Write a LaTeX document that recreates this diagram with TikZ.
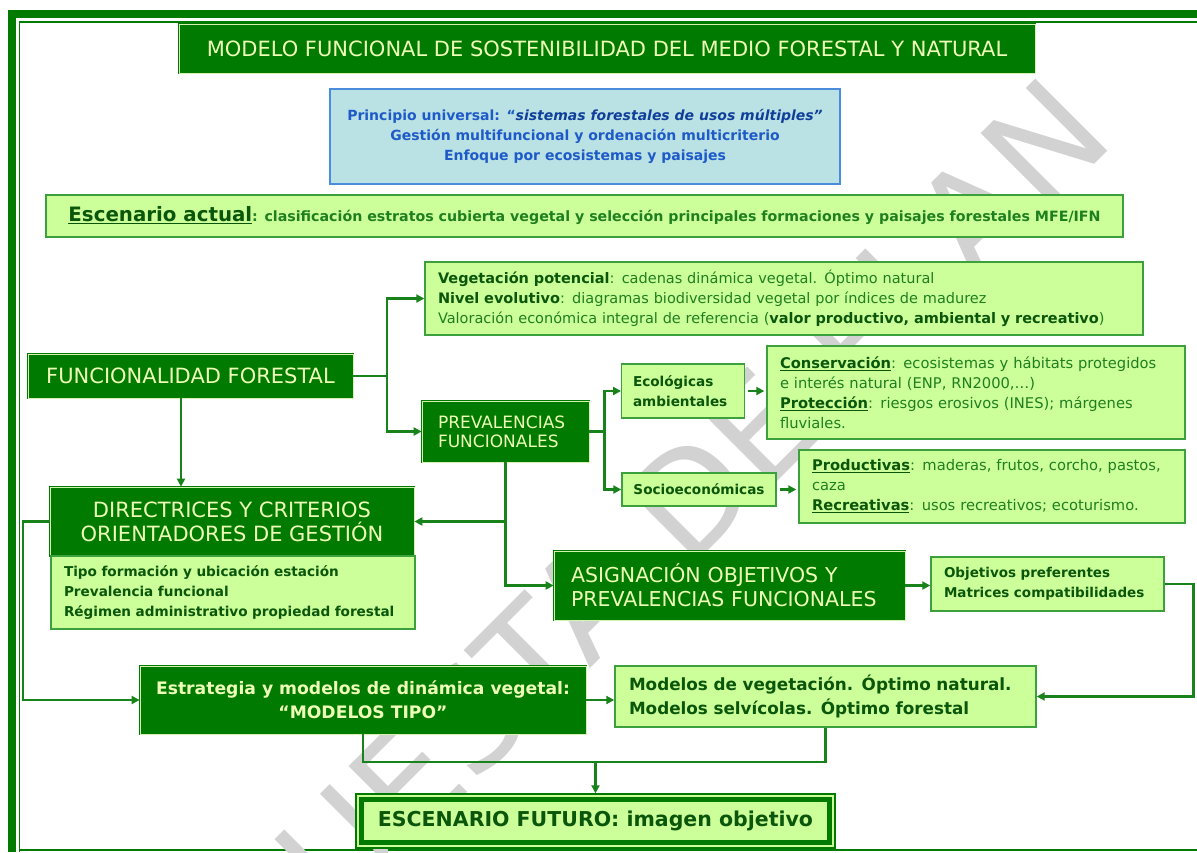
\documentclass[tikz,border=0pt]{standalone}
\usepackage{fontspec}
\setmainfont{DejaVu Sans}
\usetikzlibrary{positioning,arrows.meta}

\definecolor{dkgreen}{HTML}{007A00}
\definecolor{rimgreen}{HTML}{D6F2B0}
\definecolor{palegreen}{HTML}{CCFF99}
\definecolor{boxline}{HTML}{3CA03C}
\definecolor{txtgreen}{HTML}{1F7F1F}
\definecolor{lbltxt}{HTML}{0A560A}
\definecolor{lighttxt}{HTML}{EEFFB8}
\definecolor{skyfill}{HTML}{BAE1E4}
\definecolor{skyline}{HTML}{4A8EDB}
\definecolor{skytxt}{HTML}{1E5AC8}
\definecolor{skydark}{HTML}{103F9A}
\definecolor{wirecol}{HTML}{17831A}
\definecolor{stampgray}{HTML}{D2D2D2}

\begin{document}
\begin{tikzpicture}[
   x=1pt, y=-1pt,
   darkbox/.style={draw=dkgreen, double=rimgreen, double distance=0.8pt, line width=0.7pt, fill=dkgreen, text=lighttxt, inner sep=0pt},
   palebox/.style={draw=boxline, line width=1.4pt, fill=palegreen, text=txtgreen, inner sep=0pt},
   bluebox/.style={draw=skyline, line width=1.4pt, fill=skyfill, text=skytxt, inner sep=0pt},
   wire/.style={draw=wirecol, line width=2.2pt},
   arrow/.style={wire, -{Triangle[length=8pt,width=8pt]}}
]
\useasboundingbox (0,0) rectangle (1197,852);

% Frame
\fill[dkgreen] (8,10) rectangle (16,852);
\fill[dkgreen] (8,10) rectangle (1197,18);
\draw[dkgreen, line width=1.5pt] (19.5,852) -- (19.5,22) -- (1197,22);
\draw[dkgreen, line width=1.5pt] (19.5,850) -- (1197,850);

% Watermark
\begin{scope}
\clip (0,0) rectangle (1197,852);
\node[rotate=45, text=stampgray, font=\fontsize{140}{140}\selectfont] (stamp) at (559,628) {PROPUESTA DE PLAN};
\end{scope}

% Nodes
\node[darkbox, minimum width=856pt, minimum height=49pt, font=\fontsize{21}{24}\selectfont] (title) at (607,48.5) {MODELO FUNCIONAL DE SOSTENIBILIDAD DEL MEDIO FORESTAL Y NATURAL};
\node[bluebox, minimum width=510pt, minimum height=95pt, align=center, font=\fontsize{14}{20}\bfseries\selectfont] (principle) at (585,136.5) {Principio universal: “{\itshape\color{skydark}sistemas forestales de usos múltiples”}\\Gestión multifuncional y ordenación multicriterio\\Enfoque por ecosistemas y paisajes};
\node[palebox, minimum width=1077pt, minimum height=42pt, font=\fontsize{14.2}{20}\bfseries\selectfont] (actual) at (584.5,216) {{\fontsize{19.8}{20}\selectfont\color{lbltxt}\underline{Escenario actual}}: clasificación estratos cubierta vegetal y selección principales formaciones y paisajes forestales MFE/IFN};
\node[palebox, minimum width=718pt, minimum height=73pt, text width=692pt, inner xsep=13pt, align=left, font=\fontsize{14.5}{20}\selectfont] (potential) at (784,298.5) {{\bfseries\color{lbltxt}Vegetación potencial}: cadenas dinámica vegetal. Óptimo natural\\{\bfseries\color{lbltxt}Nivel evolutivo}: diagramas biodiversidad vegetal por índices de madurez\\Valoración económica integral de referencia ({\bfseries\color{lbltxt}valor productivo, ambiental y recreativo})};
\node[darkbox, minimum width=325pt, minimum height=44pt, font=\fontsize{21}{24}\selectfont] (funcional) at (190.5,376) {FUNCIONALIDAD FORESTAL};
\node[darkbox, minimum width=167pt, minimum height=61pt, text width=135pt, inner xsep=16pt, align=left, font=\fontsize{17}{19}\selectfont] (prevalencias) at (505.5,431.5) {PREVALENCIAS\\FUNCIONALES};
\node[palebox, text=lbltxt, minimum width=122.5pt, minimum height=54pt, text width=100pt, inner xsep=11.25pt, align=left, font=\fontsize{13.6}{20}\bfseries\selectfont] (ecologicas) at (683,391) {Ecológicas\\ambientales};
\node[palebox, text=lbltxt, minimum width=154pt, minimum height=33pt, font=\fontsize{13.6}{20}\bfseries\selectfont] (socio) at (699,489.5) {Socioeconómicas};
\node[palebox, minimum width=418pt, minimum height=93pt, text width=392pt, inner xsep=13pt, align=left, font=\fontsize{14.7}{20}\selectfont] (conservacion) at (976,392.5) {{\bfseries\color{lbltxt}\underline{Conservación}}: ecosistemas y hábitats protegidos\\e interés natural (ENP, RN2000,…)\\{\bfseries\color{lbltxt}\underline{Protección}}: riesgos erosivos (INES); márgenes\\fluviales.};
\node[palebox, minimum width=386pt, minimum height=73pt, text width=360pt, inner xsep=13pt, align=left, font=\fontsize{14.7}{20}\selectfont] (productivas) at (992,486.5) {{\bfseries\color{lbltxt}\underline{Productivas}}: maderas, frutos, corcho, pastos,\\caza\\{\bfseries\color{lbltxt}\underline{Recreativas}}: usos recreativos; ecoturismo.};
\node[darkbox, minimum width=364pt, minimum height=69pt, align=center, font=\fontsize{21}{24}\selectfont] (directrices) at (232,521.5) {DIRECTRICES Y CRITERIOS\\ORIENTADORES DE GESTIÓN};
\node[palebox, text=lbltxt, minimum width=364pt, minimum height=73pt, text width=338pt, inner xsep=13pt, align=left, font=\fontsize{13.6}{20}\bfseries\selectfont] (tipo) at (233,592.5) {Tipo formación y ubicación estación\\Prevalencia funcional\\Régimen administrativo propiedad forestal};
\node[darkbox, minimum width=351pt, minimum height=69pt, text width=317pt, inner xsep=17pt, align=left, font=\fontsize{20.5}{24}\selectfont] (asignacion) at (729.5,585.5) {ASIGNACIÓN OBJETIVOS Y\\PREVALENCIAS FUNCIONALES};
\node[palebox, text=lbltxt, minimum width=233pt, minimum height=54pt, text width=207pt, inner xsep=13pt, align=left, font=\fontsize{13.5}{19.5}\bfseries\selectfont] (objetivos) at (1047.5,584) {Objetivos preferentes\\Matrices compatibilidades};
\node[darkbox, minimum width=446pt, minimum height=68pt, align=center, font=\fontsize{17.2}{24}\bfseries\selectfont] (estrategia) at (363,700) {Estrategia y modelos de dinámica vegetal:\\“MODELOS TIPO”};
\node[palebox, text=lbltxt, minimum width=421pt, minimum height=61pt, text width=393pt, inner xsep=14pt, align=left, font=\fontsize{16.8}{24}\bfseries\selectfont] (modelos) at (825.5,696.5) {Modelos de vegetación. Óptimo natural.\\Modelos selvícolas. Óptimo forestal};
\node[draw=dkgreen, line width=1.3pt, fill=palegreen, text=lbltxt, minimum width=479pt, minimum height=54pt, font=\fontsize{20.5}{24}\bfseries\selectfont] (futuro) at (595.5,821) {ESCENARIO FUTURO: imagen objetivo};
\draw[dkgreen, line width=4.5pt] ([shift={(6pt,6pt)}]futuro.south west) rectangle ([shift={(-6pt,-6pt)}]futuro.north east);

% Edges
\coordinate (fork) at (387,376);
\coordinate (drop) at (181,0);
\coordinate (pfork) at (604.5,431.5);
\coordinate (rturn) at (1193.5,0);
\coordinate (lturn) at (23,0);
\coordinate (merge) at (595.5,762);

\draw[wire] (funcional.east) -- (fork);
\draw[arrow] (fork) |- (potential.west);
\draw[arrow] (fork) |- (prevalencias.west);
\draw[arrow] (funcional.south -| drop) -- (directrices.north -| drop);
\draw[arrow] (prevalencias.south) |- (asignacion.west);
\draw[arrow] (prevalencias.south |- directrices.east) -- (directrices.east);
\draw[wire] (prevalencias.east) -- (pfork);
\draw[arrow] (pfork) |- (ecologicas.west);
\draw[arrow] (pfork) |- (socio.west);
\draw[arrow, shorten <=3pt, shorten >=2pt] (ecologicas.east) -- (ecologicas.east -| conservacion.west);
\draw[arrow, shorten <=3pt, shorten >=2pt] (socio.east) -- (socio.east -| productivas.west);
\draw[arrow] (asignacion.east) -- (asignacion.east -| objetivos.west);
\draw[arrow] (objetivos.east) -| (rturn |- modelos.east) -- (modelos.east);
\draw[arrow] (directrices.west) -| (lturn |- estrategia.west) -- (estrategia.west);
\draw[arrow] (estrategia.east) -- (estrategia.east -| modelos.west);
\draw[wire] (estrategia.south) |- (merge) -| (modelos.south);
\draw[arrow] (merge) -- (futuro.north -| merge);

\end{tikzpicture}
\end{document}
